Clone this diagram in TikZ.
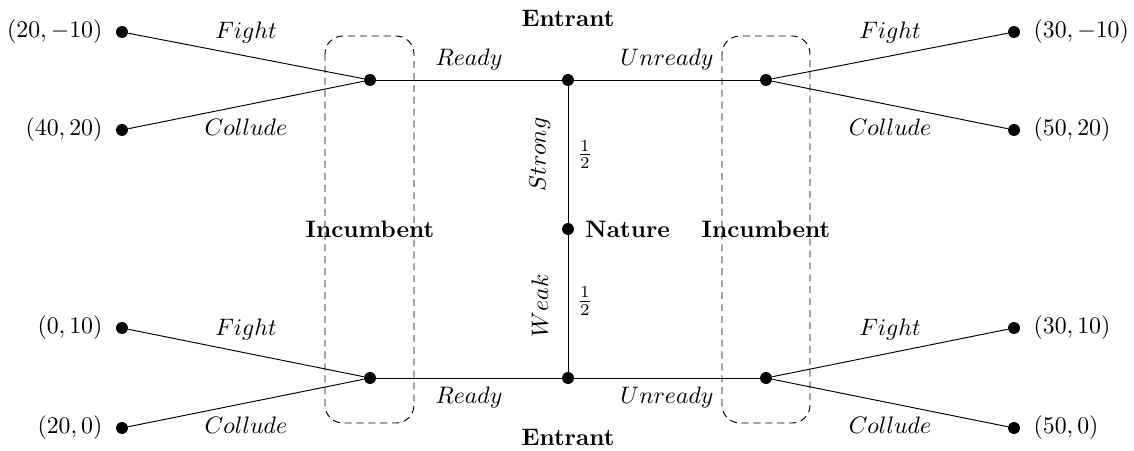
\documentclass[tikz,border=0pt]{standalone}
\begin{document}
\begin{tikzpicture}[x=0.42pt,y=-0.42pt,
  dot/.style={circle,fill=black,inner sep=0pt,minimum size=5pt},
  lbl/.style={inner sep=0pt},
  info/.style={dash pattern=on 3pt off 2pt,rounded corners=7.5pt},
  every label/.style={label distance=2pt}]
\useasboundingbox (0,0) rectangle (1134,451);
% decision nodes
\node[dot] (n) at (568,229) {};
\node[anchor=west, inner sep=0pt, font=\bfseries] (nl) at (585,229) {Nature};
\node[dot] (e1) at (568,80) {};
\node[dot] (e2) at (568,378) {};
\node[dot] (i1) at (370,80) {};
\node[dot] (i2) at (766,80) {};
\node[dot] (i3) at (370,378) {};
\node[dot] (i4) at (766,378) {};
% terminals
\node[dot,label=left:{$(20,-10)$}] (t1) at (122,32) {};
\node[dot,label=left:{$(40,20)$}] (t2) at (122,130) {};
\node[dot,label=left:{$(0,10)$}] (t3) at (122,328) {};
\node[dot,label=left:{$(20,0)$}] (t4) at (122,428) {};
\node[dot,label=right:{$(30,-10)$}] (t5) at (1014,32) {};
\node[dot,label=right:{$(50,20)$}] (t6) at (1014,130) {};
\node[dot,label=right:{$(30,10)$}] (t7) at (1014,328) {};
\node[dot,label=right:{$(50,0)$}] (t8) at (1014,428) {};
% player labels
\node[font=\bfseries] (ent1) at (568,18) {Entrant};
\node[font=\bfseries] (ent2) at (568,437) {Entrant};
\node[font=\bfseries] (inc1) at (370,229) {Incumbent};
\node[font=\bfseries] (inc2) at (766,229) {Incumbent};
% information sets
\draw[info] (325,36) rectangle (414,423);
\draw[info] (722,36) rectangle (810,423);
% nature moves
\draw (n) -- node[lbl,midway,rotate=90,yshift=11.8pt] {$Strong$} node[lbl,midway,xshift=7.1pt] {$\frac{1}{2}$} (e1);
\draw (n) -- node[lbl,midway,rotate=90,yshift=11.8pt,xshift=-1pt] {$Weak$} node[lbl,midway,xshift=7.1pt,yshift=1pt] {$\frac{1}{2}$} (e2);
% entrant moves
\draw (e1) -- node[lbl,midway,yshift=8.4pt] {$Ready$} (i1);
\draw (e1) -- node[lbl,midway,yshift=8.4pt] {$Unready$} (i2);
\draw (e2) -- node[lbl,midway,yshift=-8.4pt] {$Ready$} (i3);
\draw (e2) -- node[lbl,midway,yshift=-8.4pt] {$Unready$} (i4);
% incumbent moves
\draw (i1) -- node[lbl,midway,yshift=9.7pt] {$Fight$} (t1);
\draw (i1) -- node[lbl,midway,yshift=-9.2pt] {$Collude$} (t2);
\draw (i2) -- node[lbl,midway,yshift=9.7pt] {$Fight$} (t5);
\draw (i2) -- node[lbl,midway,yshift=-9.2pt] {$Collude$} (t6);
\draw (i3) -- node[lbl,midway,yshift=9.7pt] {$Fight$} (t3);
\draw (i3) -- node[lbl,midway,yshift=-9.2pt] {$Collude$} (t4);
\draw (i4) -- node[lbl,midway,yshift=9.7pt] {$Fight$} (t7);
\draw (i4) -- node[lbl,midway,yshift=-9.2pt] {$Collude$} (t8);
\end{tikzpicture}
\end{document}
